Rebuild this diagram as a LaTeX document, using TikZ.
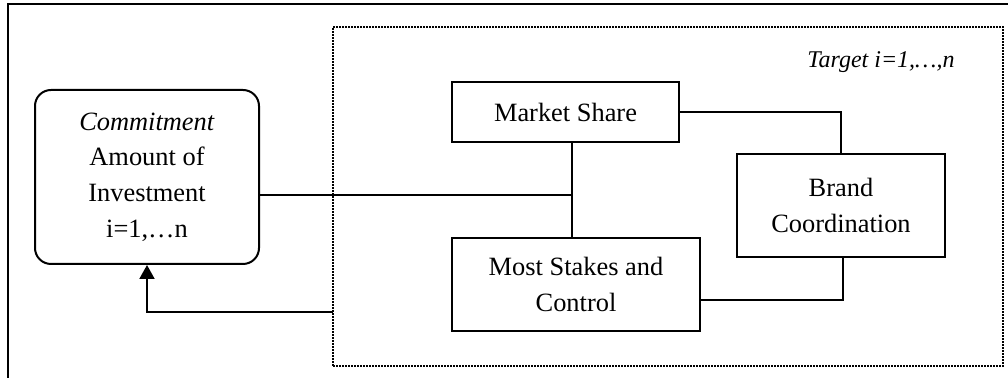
\documentclass[tikz,border=0pt]{standalone}
\usepackage{fontspec}
\setmainfont{Liberation Serif}
\usepackage{tikz}
\usetikzlibrary{arrows.meta}

\begin{document}
\begin{tikzpicture}[x=0.5pt, y=-0.5pt]
    \tikzset{box/.style={rectangle, draw, line width=1pt, inner sep=0pt, align=center, font=\fontsize{13.2}{17.8}\selectfont},
             link/.style={line width=1pt}};
%%
\useasboundingbox (0,0) rectangle (1008,378);
  \draw [line width=1.3pt] (1010,4) -| (8,380);
  \node (target) at (668,196.5) [rectangle, draw, line width=0.8pt, dash pattern=on 0.8pt off 0.7pt, minimum width=335pt, minimum height=169.5pt] {};
  \node (targetlabel) at (881,62) [font=\fontsize{12}{14}\selectfont\itshape] {Target i=1,…,n};
  \node (commit) at (147,177) [box, rounded corners=8pt, minimum width=112pt, minimum height=87pt] {\textit{Commitment}\\Amount of\\Investment\\i=1,…n};
  \node (share) at (565.5,112) [box, minimum width=113.5pt, minimum height=30pt] {Market Share};
  \node (stakes) at (576,284.5) [box, minimum width=124pt, minimum height=46.5pt] {Most Stakes and\\Control};
  \node (brand) at (841,205.5) [box, minimum width=104pt, minimum height=51.5pt] {Brand\\Coordination};
  \coordinate (j) at (572,195);
  \coordinate (k) at (843,300);
  \coordinate (m) at (333,312);

  \draw [link] (commit.east |- j) -- (j);
  \draw [link] (share.south -| j) -- (stakes.north -| j);
  \draw [link] (share.east) -| (brand.north);
  \draw [link] (stakes.east |- k) -- (k) -- (brand.south -| k);
  \draw [link, -{Triangle[length=7pt, width=7.5pt]}] (m) -| (commit.south);
\end{tikzpicture}
\end{document}
